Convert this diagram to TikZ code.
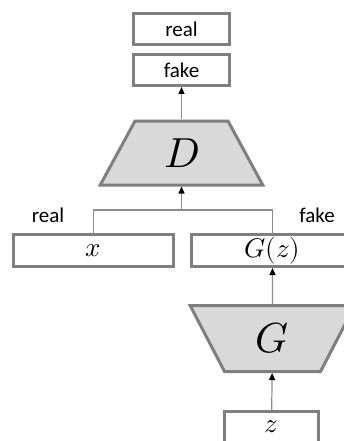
\documentclass[tikz,border=0pt]{standalone}
\usepackage{fontspec}
\usepackage{unicode-math}
\setmainfont{Carlito}
\setmathfont{Latin Modern Math}
\usetikzlibrary{shapes.geometric,arrows.meta}
\definecolor{boxgray}{HTML}{7F7F7F}
\definecolor{netfill}{HTML}{D9D9D9}
\definecolor{linegray}{HTML}{8C8C8C}
\begin{document}
\begin{tikzpicture}[x=1pt,y=-1pt,
    box/.style={draw=boxgray, line width=3pt, minimum width=96pt, minimum height=31pt, inner sep=0pt, font=\fontsize{21}{24}\selectfont},
    mathbox/.style={box, font=\fontsize{27}{30}\selectfont},
    net/.style={trapezium, trapezium angle=61.5, draw=boxgray, fill=netfill, line width=3pt, inner sep=0pt, align=center, text width=93pt, text height=46pt, text depth=18pt, font=\fontsize{42}{46}\selectfont},
    tag/.style={font=\fontsize{21}{24}\selectfont, inner sep=0pt},
    link/.style={draw=linegray, line width=1.2pt, -{Triangle[width=6pt,length=7pt,color=black]}}]
    \path[use as bounding box, clip] (0,0) rectangle (344,441);

    \node (real) [box] at (181.5,29) {real};
    \node (fake) [box] at (181.5,70) {fake};
    \node (D) [net] at (181.5,153) {$D$};
    \node (xin) [mathbox, minimum width=160pt, minimum height=32pt] at (93.5,250.5) {$x$};
    \node (gz) [mathbox, minimum width=162pt, minimum height=32pt] at (272.5,250.5) {$G(z)$};
    \node (G) [net, shape border rotate=180, trapezium angle=62.5, text width=96pt, text height=47pt, text depth=19pt] at (272.5,338.5) {$G$};
    \node (zin) [mathbox, minimum width=94pt] at (271.5,427) {$z$};
    \node (reallbl) [tag] at (48,215) {real};
    \node (fakelbl) [tag] at (317,215) {fake};
    \coordinate (join) at (181.5,210);

    \draw [link] (D) -- (fake);
    \draw [draw=linegray, line width=1.2pt] (xin.north) |- (join) -| (gz.north);
    \draw [link] (join) -- (D);
    \draw [link] (G) -- (gz);
    \draw [link] (zin) -- (G);
\end{tikzpicture}
\end{document}
